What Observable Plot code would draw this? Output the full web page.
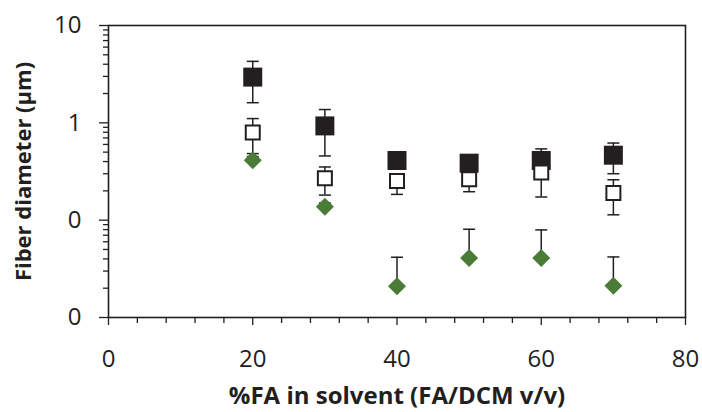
<!DOCTYPE html>
<html>
<head>
<meta charset="utf-8">
<script src="https://cdn.jsdelivr.net/npm/d3@7"></script>
<script src="https://cdn.jsdelivr.net/npm/@observablehq/plot@0.6"></script>
<style>
  html, body { margin: 0; padding: 0; background: #fff; }
  #chart svg { display: block; }
</style>
</head>
<body>
<div id="chart"></div>
<script>
// ---- data ----
const faPercent = [20, 30, 40, 50, 60, 70];

const solidMean  = [2.95, 0.93, 0.41, 0.385, 0.41, 0.465];
const solidUpper = [4.28, 1.37, 0.45, 0.42, 0.54, 0.62];
const solidLower = [1.61, 0.457, 0.37, 0.35, 0.33, 0.30];

const openMean  = [0.795, 0.269, 0.252, 0.263, 0.308, 0.19];
const openUpper = [1.106, 0.352, 0.29, 0.30, 0.36, 0.26];
const openLower = [0.483, 0.181, 0.184, 0.196, 0.173, 0.1135];

const greenMean  = [0.412, 0.137, 0.0209, 0.0408, 0.0408, 0.0212];
const greenUpper = [0.45, 0.15, 0.0416, 0.0807, 0.0794, 0.0419];

const xTicks = [0, 20, 40, 60, 80];
const xMinorTicks = [4, 8, 12, 16, 24, 28, 32, 36, 44, 48, 52, 56, 64, 68, 72, 76];
const yTicks = [10, 1, 0.1, 0.01];
const yTickLabels = ["10", "1", "0", "0"];
const yMinorTicks = [0.02, 0.03, 0.04, 0.05, 0.06, 0.07, 0.08, 0.09,
                     0.2, 0.3, 0.4, 0.5, 0.6, 0.7, 0.8, 0.9,
                     2, 3, 4, 5, 6, 7, 8, 9];
const xLabel = "%FA in solvent (FA/DCM v/v)";
const yLabel = "Fiber diameter (μm)";

// ---- build tables ----
const solid = faPercent.map((x, i) => ({x, y: solidMean[i], hi: solidUpper[i], lo: solidLower[i]}));
const open  = faPercent.map((x, i) => ({x, y: openMean[i], hi: openUpper[i], lo: openLower[i]}));
const green = faPercent.map((x, i) => ({x, y: greenMean[i], hi: greenUpper[i], lo: greenMean[i]}));

const rOf = size => Math.sqrt(size / Math.PI);
const squareSym = { draw(ctx, size) { const r = rOf(size); ctx.rect(-r, -r, 2 * r, 2 * r); } };
const diamondSym = { draw(ctx, size) { const r = rOf(size); ctx.moveTo(0, -r); ctx.lineTo(r, 0); ctx.lineTo(0, r); ctx.lineTo(-r, 0); ctx.closePath(); } };
const capSym = { draw(ctx, size) { const r = rOf(size); ctx.moveTo(-r, 0); ctx.lineTo(r, 0); } };

const ink = "#231f20";
const greenCol = "#4a7c38";
const font = "'Open Sans', 'Liberation Sans', sans-serif";

function errorMarks(data, withLower) {
  const marks = [
    Plot.ruleX(data, {x: "x", y1: withLower ? "lo" : "y", y2: "hi", stroke: ink, strokeWidth: 1.5}),
    Plot.dot(data, {x: "x", y: "hi", symbol: capSym, r: 6, stroke: ink, strokeWidth: 1.5, fill: "none"})
  ];
  if (withLower) marks.push(Plot.dot(data, {x: "x", y: "lo", symbol: capSym, r: 6, stroke: ink, strokeWidth: 1.5, fill: "none"}));
  return marks;
}

const chart = Plot.plot({
  width: 702,
  height: 412,
  marginLeft: 108,
  marginRight: 17,
  marginTop: 25,
  marginBottom: 95,
  style: {fontFamily: font, color: ink, background: "#fff"},
  x: {domain: [0, 80]},
  y: {type: "log", domain: [0.01, 10]},
  marks: [
    Plot.frame({stroke: ink, strokeWidth: 1.6}),
    Plot.axisX({ticks: xMinorTicks, tickSize: 6, tickFormat: () => "", label: null, stroke: ink, strokeWidth: 1.3}),
    Plot.axisX({ticks: xTicks, tickSize: 8, tickPadding: 24, fontSize: 24, tickFormat: d => String(d),
                label: xLabel, labelAnchor: "center", labelArrow: "none", labelOffset: 86, stroke: ink, strokeWidth: 1.3}),
    Plot.axisY({ticks: yMinorTicks, tickSize: 5, tickFormat: () => "", label: null, stroke: ink, strokeWidth: 1.3}),
    Plot.axisY({ticks: yTicks, tickSize: 9, tickPadding: 18, fontSize: 24,
                tickFormat: d => yTickLabels[yTicks.indexOf(d)],
                label: yLabel, labelAnchor: "center", labelArrow: "none", labelOffset: 93, stroke: ink, strokeWidth: 1.3}),
    ...errorMarks(solid, true),
    Plot.dot(solid, {x: "x", y: "y", symbol: squareSym, r: 9.5, fill: ink, stroke: "none"}),
    ...errorMarks(open, true),
    Plot.dot(open, {x: "x", y: "y", symbol: squareSym, r: 7, fill: "#fff", stroke: ink, strokeWidth: 2}),
    ...errorMarks(green, false),
    Plot.dot(green, {x: "x", y: "y", symbol: diamondSym, r: 9, fill: greenCol, stroke: "none"})
  ]
});

// bold axis titles (only the titles, not tick labels)
d3.select(chart).selectAll("g[aria-label='x-axis label'] text")
  .attr("font-weight", "bold").attr("font-size", 24);
d3.select(chart).selectAll("g[aria-label='y-axis label'] text")
  .attr("font-weight", "bold").attr("font-size", 22);

document.getElementById("chart").appendChild(chart);
</script>
</body>
</html>
